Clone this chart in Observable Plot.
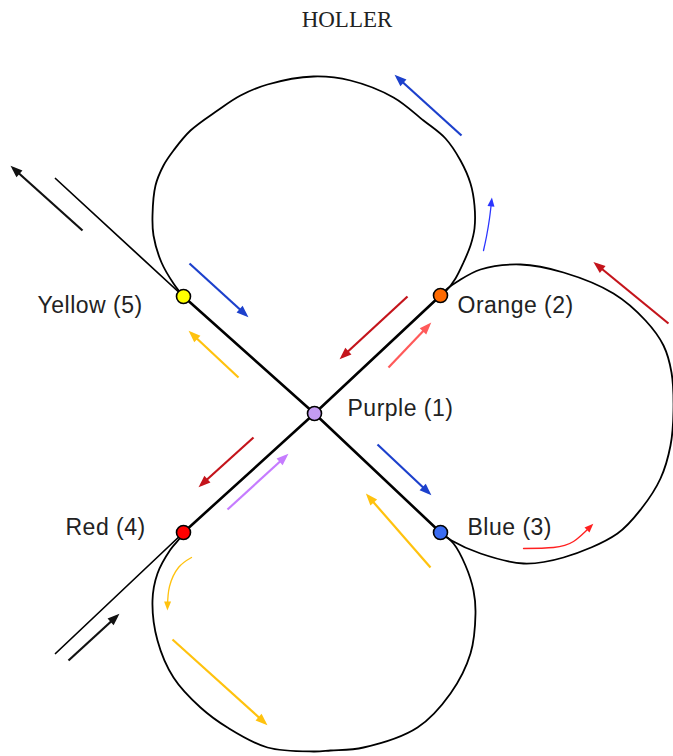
<!DOCTYPE html>
<html><head><meta charset="utf-8">
<script src="https://cdn.jsdelivr.net/npm/d3@7"></script>
<script src="https://cdn.jsdelivr.net/npm/@observablehq/plot@0.6"></script>
<style>
body{margin:0;background:#fff;width:673px;}
#title{height:40px;line-height:40px;font-family:"Liberation Serif","Times New Roman",serif;font-size:23px;color:#222;text-align:center;padding-left:21px;box-sizing:border-box;}
#chart svg{display:block;}
#chart svg text{letter-spacing:0.5px;}
</style></head><body>
<div id="title">HOLLER</div>
<div id="chart"></div>
<script>
// Nodes
const nodeNames = ["Purple (1)", "Orange (2)", "Blue (3)", "Red (4)", "Yellow (5)"];
const nodeX = [314, 440, 440, 183, 183];
const nodeY = [413, 295, 532, 532, 296];
const labelX = [347, 457, 467, 65, 37];
const labelY = [408, 305, 527, 527, 305];

// Straight roads
const roadAX = [55, 183, 314, 440];
const roadAY = [178, 296, 413, 532];
const roadBX = [55, 183, 314, 440];
const roadBY = [653, 532, 413, 295];

// Loops
const topLoopX = [183, 173, 161, 153, 152, 155, 163, 173, 190, 217, 240, 267, 313, 350, 393, 423, 445, 460, 470, 474, 474, 470, 463, 455, 446, 440];
const topLoopY = [296, 283, 262, 235, 215, 185, 165, 150, 130, 110, 95, 84, 76, 80, 97, 120, 138, 160, 183, 205, 228, 245, 262, 278, 290, 295];
const rightLoopX = [440, 447, 457, 480, 520, 563, 613, 645, 663, 671, 673, 670, 660, 641, 617, 563, 523, 480, 451, 440];
const rightLoopY = [295, 288, 281, 269, 264, 272, 293, 320, 345, 372, 410, 445, 478, 508, 533, 557, 563, 553, 540, 532];
const bottomLoopX = [440, 453, 465, 473, 475, 470, 450, 417, 363, 330, 313, 267, 227, 200, 173, 157, 152, 157, 170, 180, 183];
const bottomLoopY = [532, 543, 565, 590, 613, 653, 693, 727, 747, 750, 751, 747, 727, 707, 677, 640, 600, 573, 549, 537, 532];

// Straight direction arrows
const arrowX1 = [82, 68, 461, 668, 189, 238, 407, 388, 377, 430, 253, 227, 172];
const arrowY1 = [230, 660, 135, 323, 263, 377, 296, 367, 444, 567, 437, 509, 639];
const arrowX2 = [13, 116, 397, 596, 245, 191, 342, 428, 428, 368, 201, 285, 264];
const arrowY2 = [168, 616, 77, 264, 314, 333, 356, 325, 492, 496, 484, 456, 722];
const arrowKind = ["black", "black", "blue", "darkred", "blue", "yellow", "darkred", "salmon", "blue", "yellow", "darkred", "violet", "yellow"];

// Curved turn arrows
const turnBlueX = [483, 486, 489, 491];
const turnBlueY = [250, 236, 218, 201];
const turnRedX = [523, 553, 573, 590];
const turnRedY = [548, 547, 541, 526];
const turnYellowX = [191, 178, 169, 167];
const turnYellowY = [557, 567, 586, 606];

// Style maps
const kindColor = {black: "#111111", blue: "#1c40cc", darkred: "#c4141b", salmon: "#ff5a5a", yellow: "#ffc20e", violet: "#c67cff", turnBlue: "#2b35ff", turnRed: "#ff2020", turnYellow: "#ffc20e"};
const nodeColor = {"Purple (1)": "#c49cf2", "Orange (2)": "#ff6a00", "Blue (3)": "#3a6cf2", "Red (4)": "#ff0000", "Yellow (5)": "#ffff00"};

const zip = (xs, ys, extra = {}) => xs.map((x, i) => ({x, y: ys[i], ...extra}));
const nodes = nodeNames.map((name, i) => ({name, x: nodeX[i], y: nodeY[i], lx: labelX[i], ly: labelY[i]}));
const arrows = arrowKind.map((kind, i) => ({kind, x1: arrowX1[i], y1: arrowY1[i], x2: arrowX2[i], y2: arrowY2[i]}));
const turns = [
  ...zip(turnBlueX, turnBlueY, {kind: "turnBlue"}),
  ...zip(turnRedX, turnRedY, {kind: "turnRed"}),
  ...zip(turnYellowX, turnYellowY, {kind: "turnYellow"})
];
const roadAOuter = zip(roadAX.slice(0, 2), roadAY.slice(0, 2));
const roadAInner = zip(roadAX.slice(1), roadAY.slice(1));
const roadBOuter = zip(roadBX.slice(0, 2), roadBY.slice(0, 2));
const roadBInner = zip(roadBX.slice(1), roadBY.slice(1));

function head(L, W) {
  return (color) => {
    const ns = "http://www.w3.org/2000/svg";
    const m = document.createElementNS(ns, "marker");
    m.setAttribute("viewBox", `${-L - 1} ${-W - 1} ${L + 4} ${2 * W + 2}`);
    m.setAttribute("markerUnits", "userSpaceOnUse");
    m.setAttribute("markerWidth", L + 4);
    m.setAttribute("markerHeight", 2 * W + 2);
    m.setAttribute("refX", -2);
    m.setAttribute("refY", 0);
    m.setAttribute("orient", "auto");
    const p = document.createElementNS(ns, "path");
    p.setAttribute("d", `M${-L},${-W}L2,0L${-L},${W}Z`);
    p.setAttribute("fill", color);
    p.setAttribute("stroke", "none");
    m.appendChild(p);
    return m;
  };
}

const chart = Plot.plot({
  width: 673,
  height: 716,
  margin: 0,
  x: {domain: [0, 673], range: [0, 673], axis: null},
  y: {domain: [40, 756], range: [0, 716], axis: null},
  color: {type: "identity"},
  style: {background: "#fff"},
  marks: [
    Plot.line(roadAOuter, {x: "x", y: "y", stroke: "#000", strokeWidth: 1.7}),
    Plot.line(roadBOuter, {x: "x", y: "y", stroke: "#000", strokeWidth: 1.7}),
    Plot.line(roadAInner, {x: "x", y: "y", stroke: "#000", strokeWidth: 2.6}),
    Plot.line(roadBInner, {x: "x", y: "y", stroke: "#000", strokeWidth: 2.6}),
    Plot.line(zip(topLoopX, topLoopY), {x: "x", y: "y", stroke: "#000", strokeWidth: 1.8, curve: "catmull-rom"}),
    Plot.line(zip(rightLoopX, rightLoopY), {x: "x", y: "y", stroke: "#000", strokeWidth: 1.8, curve: "catmull-rom"}),
    Plot.line(zip(bottomLoopX, bottomLoopY), {x: "x", y: "y", stroke: "#000", strokeWidth: 1.8, curve: "catmull-rom"}),
    Plot.link(arrows, {x1: "x1", y1: "y1", x2: "x2", y2: "y2", stroke: d => kindColor[d.kind], strokeWidth: 2.2, markerEnd: head(10, 4.5)}),
    Plot.line(turns, {x: "x", y: "y", z: "kind", stroke: d => kindColor[d.kind], strokeWidth: 1.3, curve: "natural", markerEnd: head(7, 3.5)}),
    Plot.dot(nodes, {x: "x", y: "y", r: 7, fill: d => nodeColor[d.name], stroke: "#000", strokeWidth: 1.6}),
    Plot.text(nodes, {x: "lx", y: "ly", text: "name", textAnchor: "start", fontSize: 23, fill: "#222", fontFamily: "'Liberation Sans', Arial, sans-serif"})
  ]
});
document.getElementById("chart").appendChild(chart);
</script>
</body></html>
